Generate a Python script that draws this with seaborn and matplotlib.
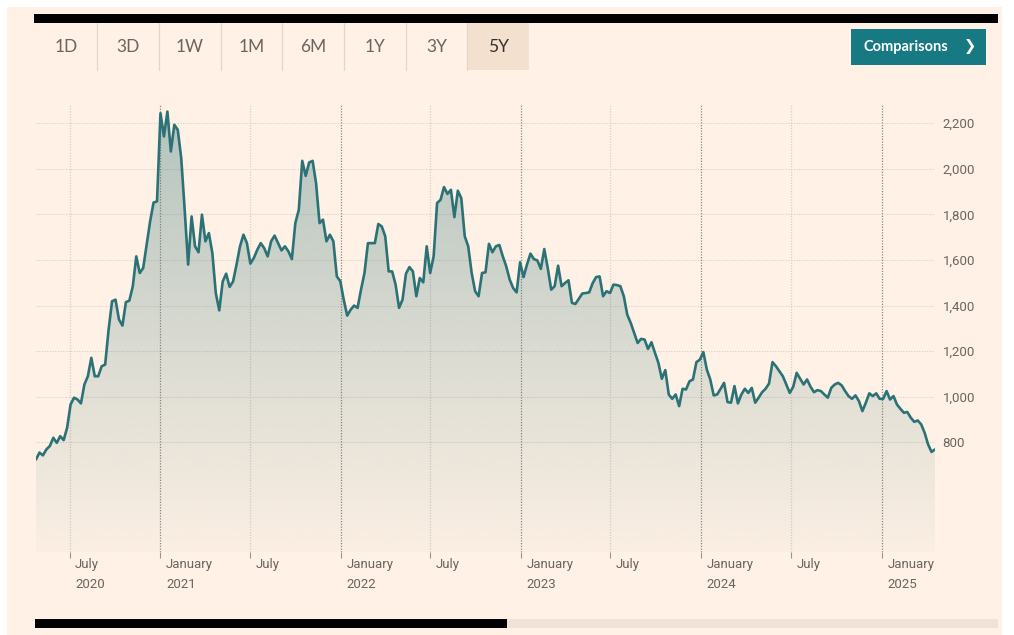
import numpy as np
import pandas as pd
import matplotlib
matplotlib.use("Agg")
import matplotlib.pyplot as plt
import matplotlib.dates as mdates
from matplotlib.patches import Rectangle, PathPatch
from matplotlib.transforms import ScaledTranslation
import seaborn as sns

# ---- data -------------------------------------------------------------
first_week = "2020-04-24"          # weekly closes, Fridays
close = [
    725, 755, 743, 769, 784, 820, 798, 827, 810, 864, 966, 996, 988, 971, 1054,
    1090, 1171, 1090, 1090, 1134, 1141, 1295, 1419, 1426, 1339, 1312, 1415, 1422,
    1485, 1616, 1543, 1565, 1667, 1769, 1852, 1857, 2244, 2142, 2251, 2076, 2193,
    2171, 2047,
    1820, 1580, 1791, 1660, 1634, 1799, 1682, 1718, 1631, 1455, 1379, 1506, 1540,
    1482, 1506, 1580, 1660, 1711, 1674, 1584, 1609, 1645, 1674, 1652, 1616, 1682,
    1707, 1674, 1642, 1660, 1638, 1604, 1762, 1820, 2035, 1969, 2028, 2035, 1937,
    1762, 1777, 1682, 1711,
    1682, 1528, 1507, 1426, 1356, 1382, 1400, 1390, 1470, 1543, 1674, 1674, 1674,
    1758, 1747, 1704, 1550, 1550, 1492, 1390, 1426, 1540, 1569, 1550, 1441, 1521,
    1502, 1660, 1543, 1616, 1850, 1864, 1920, 1890, 1908, 1788, 1904, 1871, 1704,
    1660, 1543, 1463, 1441,
    1543, 1546, 1671, 1634, 1660, 1666, 1616, 1572, 1514, 1477, 1458, 1590, 1525,
    1580, 1628, 1604, 1598, 1561, 1648, 1565, 1470, 1485, 1575, 1485, 1499, 1511,
    1412, 1407, 1430, 1453, 1455, 1458, 1499, 1525, 1528, 1441, 1463, 1455, 1492,
    1490, 1485, 1441, 1360, 1324, 1280, 1236,
    1254, 1251, 1210, 1239, 1193, 1149, 1079, 1117, 1010, 991, 1010, 959, 1035,
    1032, 1068, 1076, 1152, 1163, 1196, 1120, 1076, 1006, 1010, 1035, 1061,
    977, 974, 1047, 971, 1010, 1035, 1017, 1039, 974, 996, 1020, 1035, 1058, 1152,
    1134, 1112, 1090,
    1054, 1017, 1044, 1105, 1079, 1054, 1076, 1044, 1020, 1029, 1025, 1010, 996,
    1039, 1054, 1061, 1050, 1025, 1003, 991, 1006, 981, 937, 974, 1015, 1003, 1015,
    991, 991, 1025, 988, 1003, 966, 947, 930, 933, 908, 890, 896, 879,
    842, 791, 758, 769,
]

range_buttons = ["1D", "3D", "1W", "1M", "6M", "1Y", "3Y", "5Y"]
active_button = "5Y"

y_ticks = [800, 1000, 1200, 1400, 1600, 1800, 2000, 2200]
x_tick_dates = ["2020-07-01", "2021-01-01", "2021-07-01", "2022-01-01",
                "2022-07-01", "2023-01-01", "2023-07-01", "2024-01-01",
                "2024-07-01", "2025-01-01"]
x_tick_labels = ["July\n2020", "January\n2021", "July", "January\n2022",
                 "July", "January\n2023", "July", "January\n2024",
                 "July", "January\n2025"]

# ---- style ------------------------------------------------------------
PAPER = "#fff1e5"
LINE = "#2b7277"
GREY = "#6b6560"
TEAL_BTN = "#177a82"

sns.set_style("white")
plt.rcParams["font.family"] = ["Roboto", "DejaVu Sans"]

W, H = 1014, 635
fig = plt.figure(figsize=(W / 100, H / 100), dpi=100, facecolor="white")


def fx(x):
    return x / W


def fy(y):
    return 1 - y / H


def box(x0, y0, x1, y1, color, z=1):
    fig.patches.append(Rectangle((fx(x0), fy(y1)), fx(x1) - fx(x0), (y1 - y0) / H,
                                 transform=fig.transFigure, facecolor=color,
                                 edgecolor="none", zorder=z))


# page, top rule and range selector
box(7, 7, 1002, 635, PAPER, z=-10)
box(34, 14, 998, 23, "black")

btn_w = 61.7
btn_x0 = 35.5
for i, lab in enumerate(range_buttons):
    cx = btn_x0 + btn_w * (i + 0.5)
    active = lab == active_button
    if active:
        box(btn_x0 + btn_w * i, 23, btn_x0 + btn_w * (i + 1), 70, "#f3e0cf")
    elif i < len(range_buttons) - 1:
        xs = btn_x0 + btn_w * (i + 1)
        fig.add_artist(plt.Line2D([fx(xs), fx(xs)], [fy(23), fy(70)],
                                  transform=fig.transFigure, color="#e2d5ca", lw=0.9))
    fig.text(fx(cx), fy(47), lab, ha="center", va="center", fontsize=12.5,
             family=["Lato", "DejaVu Sans"],
             color="#33302e" if active else GREY)

box(851, 29, 986, 65, TEAL_BTN)
fig.text(fx(906), fy(46.5), "Comparisons", ha="center", va="center", fontsize=10.5,
         fontweight="bold", color="white", family=["Lato", "DejaVu Sans"])
fig.text(fx(970), fy(46.5), "❯", ha="center", va="center", fontsize=10.5,
         fontweight="bold", color="white", family=["DejaVu Sans"])

# scroll bar
box(35, 619, 998, 628, "#f0e2d5")
box(35, 619, 507, 628, "black")

# ---- chart ------------------------------------------------------------
df = pd.DataFrame({
    "date": pd.date_range(first_week, periods=len(close), freq="7D"),
    "close": close,
})

ax = fig.add_axes([fx(36), fy(552), fx(935) - fx(36), (552 - 105) / H])
ax.set_zorder(5)
ax.set_facecolor("none")

y_lo, y_hi = 319, 2280

# gridlines
for v in y_ticks:
    ax.axhline(v, color="#d8cec5", lw=0.8, ls=(0, (1, 1.4)), zorder=0.5)
for d, lab in zip(pd.to_datetime(x_tick_dates), x_tick_labels):
    dark = lab.startswith("January")
    ax.axvline(mdates.date2num(d), color="#8f8984" if dark else "#d8cec5", lw=0.9,
               ls=(0, (1, 1.2)), zorder=0.6)

# gradient area under the line
xnum = mdates.date2num(df["date"])
poly = ax.fill_between(xnum, df["close"], y_lo, facecolor="none", edgecolor="none")
clip = PathPatch(poly.get_paths()[0], transform=ax.transData,
                 facecolor="none", edgecolor="none")
ax.add_patch(clip)
rgb = matplotlib.colors.to_rgb(LINE)
g = np.linspace(0.36, 0.02, 256)
img = np.zeros((256, 1, 4))
img[..., 0], img[..., 1], img[..., 2] = rgb
img[:, 0, 3] = g
im = ax.imshow(img, extent=[xnum[0], xnum[-1], y_lo, y_hi], origin="upper",
               aspect="auto", zorder=0.8, interpolation="bilinear")
im.set_clip_path(clip)

sns.lineplot(x=xnum, y=df["close"].to_numpy(), ax=ax, color=LINE, lw=1.9, zorder=3)

ax.set_xlim(xnum[0], xnum[-1])
ax.set_ylim(y_lo, y_hi)
ax.set_xlabel("")
ax.set_ylabel("")
for s in ax.spines.values():
    s.set_visible(False)

ax.yaxis.tick_right()
ax.set_yticks(y_ticks)
ax.set_yticklabels([f"{v:,}" for v in y_ticks])
ax.tick_params(axis="y", length=0, pad=5.5, labelsize=9.5, labelcolor=GREY)

ax.set_xticks(mdates.date2num(pd.to_datetime(x_tick_dates)))
ax.set_xticklabels(x_tick_labels, ha="left", linespacing=1.7)
ax.tick_params(axis="x", length=4, width=0.8, color="#9a948f", direction="out",
               pad=0, labelsize=9.5, labelcolor=GREY, bottom=True)
shift = ScaledTranslation(4.0 / 72, 0, fig.dpi_scale_trans)
for t in ax.get_xticklabels():
    t.set_transform(t.get_transform() + shift)

fig.savefig("out.png", dpi=100, facecolor=fig.get_facecolor())
